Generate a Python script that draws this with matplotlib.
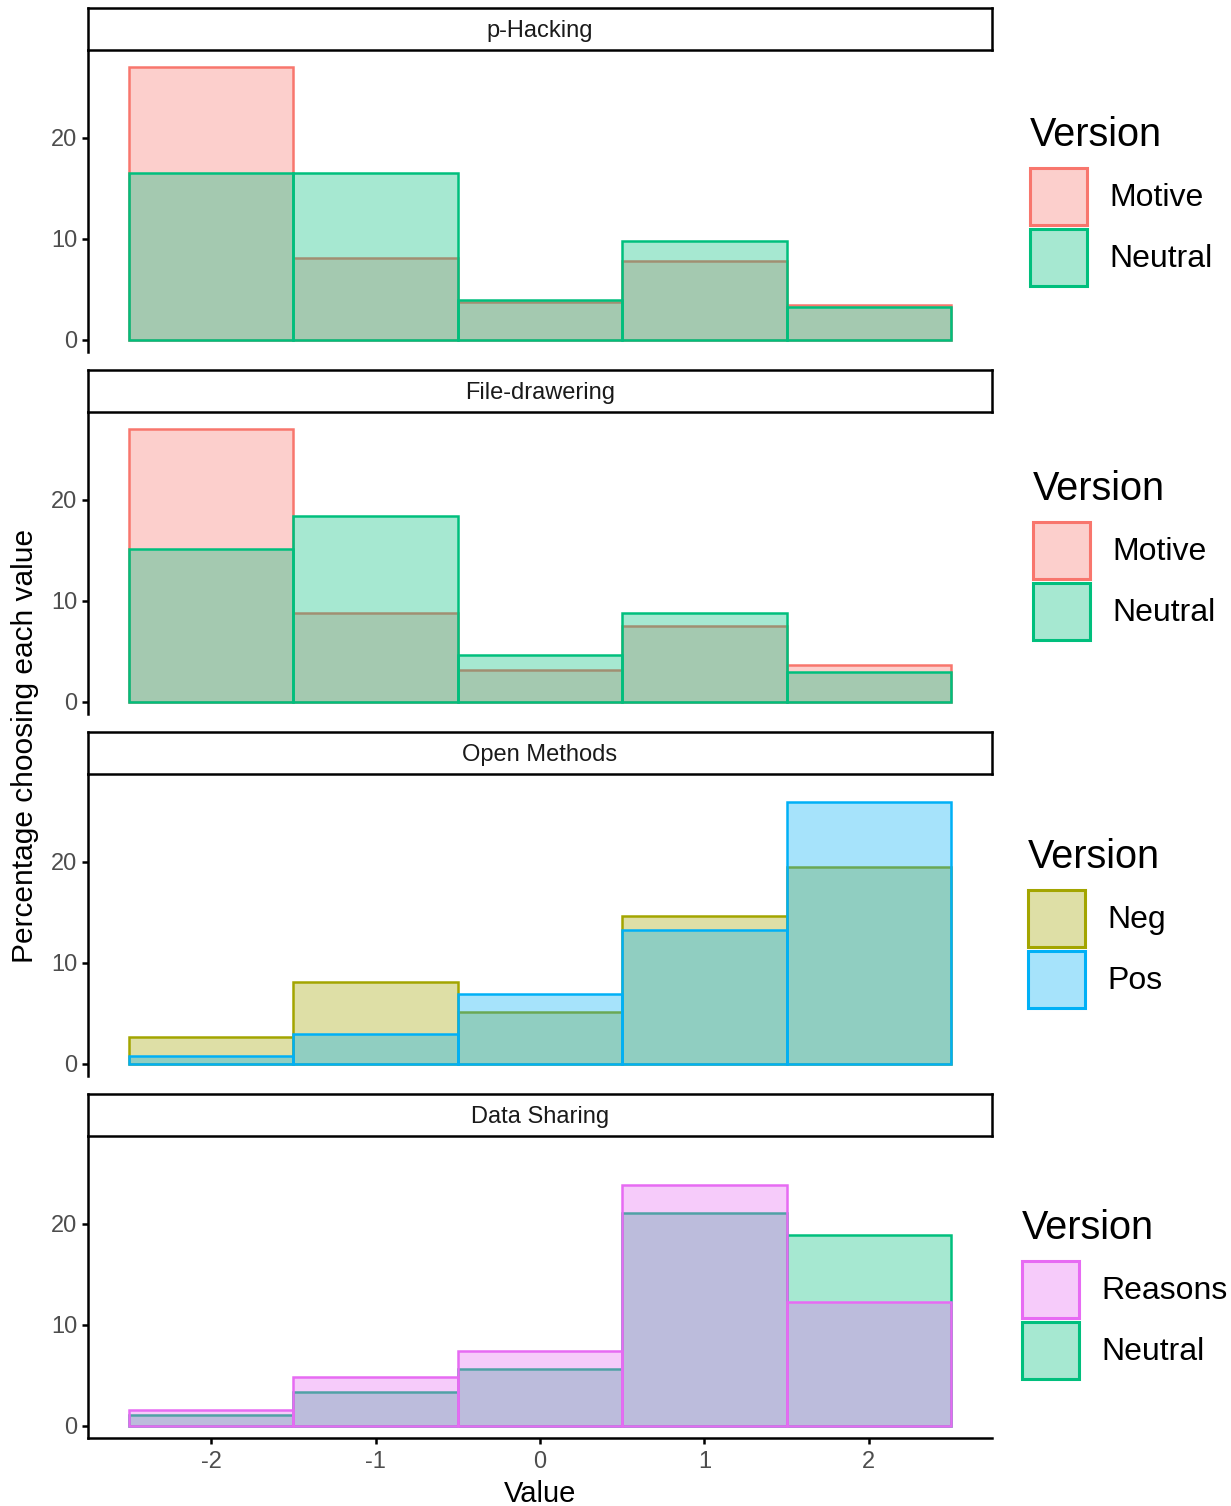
import numpy as np
import matplotlib
matplotlib.use("Agg")
import matplotlib.pyplot as plt
import matplotlib.patches as mpatches
from matplotlib.colors import to_rgba

plt.rcParams['font.family'] = ['Liberation Sans', 'DejaVu Sans']

# Valores de la escala (-2 .. 2)
valores = [-2, -1, 0, 1, 2]

# p-Hacking
phack_motive = [27.0, 8.1, 3.7, 7.8, 3.4]
phack_neutral = [16.5, 16.5, 3.9, 9.8, 3.2]

# File-drawering
file_motive = [27.0, 8.8, 3.1, 7.45, 3.65]
file_neutral = [15.1, 18.4, 4.65, 8.8, 3.0]

# Open Methods
open_neg = [2.7, 8.1, 5.15, 14.6, 19.5]
open_pos = [0.8, 3.0, 6.9, 13.2, 25.85]

# Data Sharing
data_reasons = [1.55, 4.85, 7.4, 23.8, 12.25]
data_neutral = [1.05, 3.35, 5.65, 21.0, 18.85]

titulos = ['p-Hacking', 'File-drawering', 'Open Methods', 'Data Sharing']

# colores tipo ggplot (hue de 5 niveles)
colores = {'Motive': '#F8766D', 'Neg': '#A3A500', 'Neutral': '#00BF7D',
           'Pos': '#00B0F6', 'Reasons': '#E76BF3'}

# (etiqueta, valores) en orden de dibujo; la leyenda se lista aparte
paneles = [
    [('Motive', phack_motive), ('Neutral', phack_neutral)],
    [('Motive', file_motive), ('Neutral', file_neutral)],
    [('Neg', open_neg), ('Pos', open_pos)],
    [('Neutral', data_neutral), ('Reasons', data_reasons)],
]
orden_leyenda = [['Motive', 'Neutral'], ['Motive', 'Neutral'],
                 ['Neg', 'Pos'], ['Reasons', 'Neutral']]

# posicion de cada leyenda (px desde la izquierda, desplazamiento vertical en px)
leyenda_x = [1030, 1033, 1028, 1022]
leyenda_dy = [0, 8, 2, -7]

W, H = 1231, 1506
fig = plt.figure(figsize=(W / 100, H / 100), dpi=100)

ALPHA = 0.35
x0, x1 = 88, 992

for i in range(4):
    top = 50 + 362 * i
    bot = 352 + 362 * i
    ax = fig.add_axes([x0 / W, 1 - bot / H, (x1 - x0) / W, (bot - top) / H])

    # caja del titulo del panel
    sax = fig.add_axes([x0 / W, 1 - (top) / H, (x1 - x0) / W, 42 / H])
    sax.set_xticks([])
    sax.set_yticks([])
    for s in sax.spines.values():
        s.set_linewidth(1.8)
        s.set_color('black')
    sax.text(0.5, 0.45, titulos[i], ha='center', va='center',
             fontsize=17, color='#1A1A1A', transform=sax.transAxes)

    for nombre, vals in paneles[i]:
        c = colores[nombre]
        ax.bar(valores, vals, width=1.0, facecolor=to_rgba(c, ALPHA),
               edgecolor=c, linewidth=1.8, label=nombre)

    ax.set_xlim(-2.75, 2.75)
    ax.set_ylim(-1.2, 28.65)
    ax.set_yticks([0, 10, 20])
    ax.spines['top'].set_visible(False)
    ax.spines['right'].set_visible(False)
    ax.spines['left'].set_linewidth(1.8)
    ax.tick_params(axis='y', length=4.3, width=1.8, pad=3.5,
                   labelsize=17, labelcolor='#4D4D4D')
    if i < 3:
        ax.spines['bottom'].set_visible(False)
        ax.set_xticks([])
    else:
        ax.spines['bottom'].set_linewidth(1.8)
        ax.set_xticks(valores)
        ax.set_xticklabels([str(v) for v in valores])
        ax.tick_params(axis='x', length=4.3, width=1.8, pad=5,
                       labelsize=17, labelcolor='#4D4D4D')
        ax.set_xlabel('Value', fontsize=21, labelpad=5)

    handles = [mpatches.Patch(facecolor=to_rgba(colores[n], ALPHA),
                              edgecolor=colores[n], linewidth=2.2, label=n)
               for n in orden_leyenda[i]]
    leg = ax.legend(handles=handles, title='Version', loc='center left',
                    bbox_to_anchor=((leyenda_x[i] - x0) / (x1 - x0),
                                    0.5 + leyenda_dy[i] / (bot - top)),
                    frameon=False, fontsize=23, title_fontsize=28.5,
                    handlelength=1.785, handleheight=2.37, labelspacing=0.12,
                    handletextpad=0.69, borderpad=0, borderaxespad=0,
                    alignment='left')
    # mas aire entre el titulo y las cajas
    leg._legend_box.sep = 9.5

fig.text(25 / W, 1 - 746 / H, 'Percentage choosing each value', rotation=90,
         ha='center', va='center', fontsize=21.5)

fig.savefig('out.png', dpi=100)
